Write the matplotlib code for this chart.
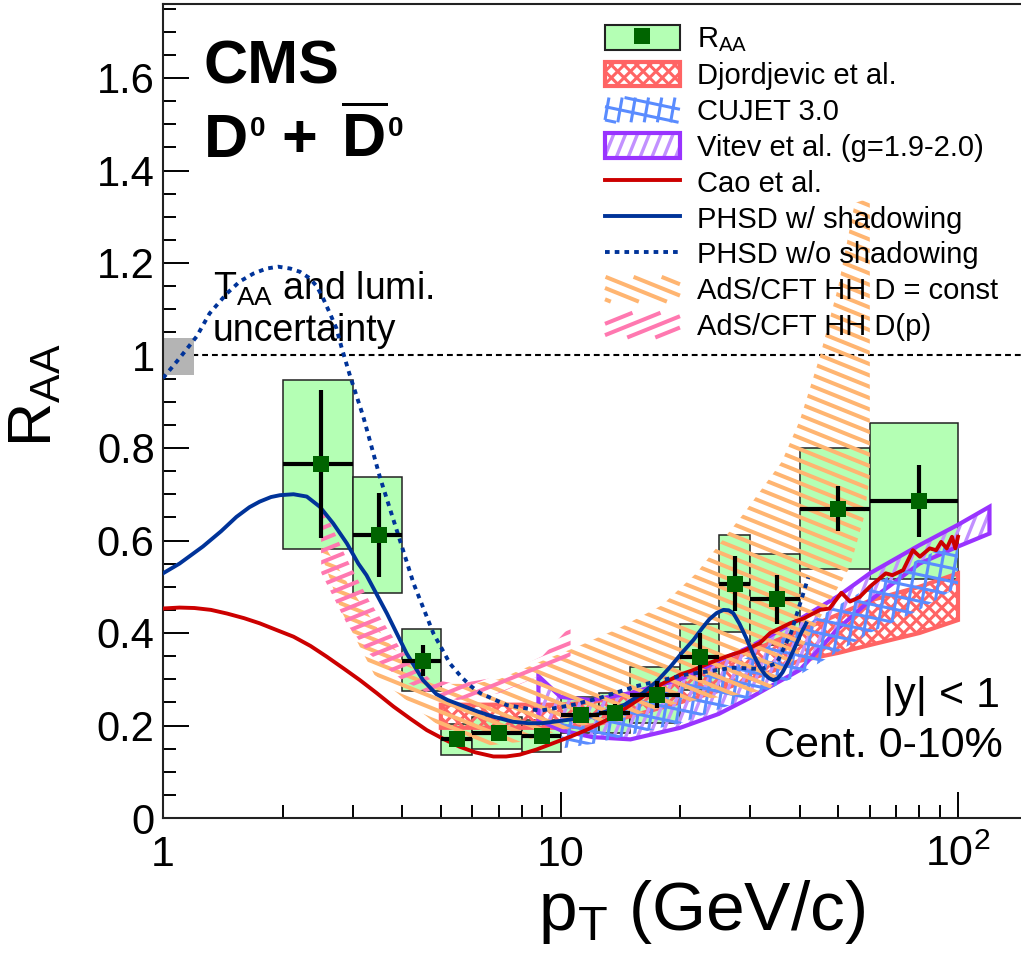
import numpy as np
import matplotlib
matplotlib.use('Agg')
import matplotlib.pyplot as plt
from matplotlib.patches import Rectangle, Polygon
from matplotlib.collections import LineCollection
from matplotlib.lines import Line2D
from matplotlib.legend_handler import HandlerBase
from matplotlib.transforms import IdentityTransform
import matplotlib.ticker as mticker

plt.rcParams['font.family'] = ['Liberation Sans', 'DejaVu Sans']
plt.rcParams['mathtext.fontset'] = 'custom'
plt.rcParams['mathtext.rm'] = 'Liberation Sans'
plt.rcParams['mathtext.it'] = 'Liberation Sans:italic'
plt.rcParams['mathtext.bf'] = 'Liberation Sans:bold'

# ---------------- data ----------------
pt_lo = np.array([2, 3, 4, 5, 6, 8, 10, 12.5, 15, 20, 25, 30, 40, 60])
pt_hi = np.array([3, 4, 5, 6, 8, 10, 12.5, 15, 20, 25, 30, 40, 60, 100])
raa = np.array([0.765, 0.612, 0.340, 0.170, 0.183, 0.177, 0.223, 0.228,
                0.267, 0.349, 0.507, 0.473, 0.669, 0.685])
raa_stat = np.array([0.160, 0.091, 0.034, 0.016, 0.014, 0.012, 0.014, 0.018,
                     0.029, 0.051, 0.059, 0.053, 0.049, 0.078])
syst_lo = np.array([0.581, 0.487, 0.275, 0.136, 0.149, 0.143, 0.184, 0.183,
                    0.206, 0.277, 0.403, 0.374, 0.538, 0.516])
syst_hi = np.array([0.948, 0.737, 0.408, 0.203, 0.218, 0.212, 0.262, 0.270,
                    0.327, 0.419, 0.612, 0.571, 0.800, 0.853])

# global uncertainty (TAA + lumi)
glob_x = [1.0, 1.2]
glob_lo, glob_hi = 0.958, 1.038

# Djordjevic et al.
djo_x = np.array([5, 7, 10, 12, 15, 20, 25, 30, 40, 50, 60, 80, 100])
djo_lo = np.array([0.195, 0.195, 0.195, 0.200, 0.220, 0.250, 0.275, 0.300,
                   0.340, 0.357, 0.374, 0.400, 0.428])
djo_hi = np.array([0.245, 0.245, 0.245, 0.250, 0.270, 0.300, 0.330, 0.360,
                   0.405, 0.440, 0.470, 0.500, 0.529])

# CUJET 3.0
cuj_x = np.array([10, 12, 15, 20, 25, 30, 40, 50, 60, 80, 100])
cuj_lo = np.array([0.150, 0.160, 0.180, 0.205, 0.235, 0.260, 0.310, 0.360,
                   0.400, 0.450, 0.500])
cuj_hi = np.array([0.215, 0.230, 0.255, 0.285, 0.320, 0.350, 0.410, 0.460,
                   0.500, 0.560, 0.600])

# Vitev et al. (g=1.9-2.0)
vit_x = np.array([8.8, 10, 12, 15, 20, 25, 30, 40, 50, 60, 80, 100, 120])
vit_lo = np.array([0.212, 0.190, 0.175, 0.170, 0.195, 0.225, 0.260, 0.320,
                   0.410, 0.470, 0.550, 0.587, 0.615])
vit_hi = np.array([0.307, 0.262, 0.255, 0.270, 0.300, 0.340, 0.370, 0.430,
                   0.480, 0.529, 0.590, 0.634, 0.673])

# AdS/CFT HH D = const
ads_c_xhi = np.array([2.5, 3.0, 3.6, 4.4, 5.2, 6, 7, 9, 11, 14, 18, 22, 29,
                      36, 40, 45, 50, 55, 60])
ads_c_hi = np.array([0.60, 0.49, 0.39, 0.31, 0.29, 0.29, 0.30, 0.34, 0.37,
                     0.41, 0.46, 0.53, 0.66, 0.77, 0.86, 1.00, 1.15, 1.33, 1.34])
ads_c_xlo = np.array([2.5, 2.8, 3.4, 4.3, 5.1, 6.3, 8, 10, 15, 20, 30, 33.7,
                      40, 47, 53.5, 58, 60])
ads_c_lo = np.array([0.57, 0.45, 0.31, 0.24, 0.19, 0.155, 0.165, 0.19, 0.22,
                     0.25, 0.27, 0.28, 0.36, 0.46, 0.543, 0.65, 0.74])

# AdS/CFT HH D(p)
ads_p_x = np.array([2.5, 2.9, 3.3, 4.0, 4.7, 5.5, 7, 9, 10.6])
ads_p_lo = np.array([0.53, 0.42, 0.355, 0.298, 0.268, 0.255, 0.270, 0.310, 0.350])
ads_p_hi = np.array([0.68, 0.56, 0.47, 0.36, 0.30, 0.290, 0.305, 0.350, 0.415])

# Cao et al.
cao_x = np.array([1.0, 1.1, 1.2, 1.32, 1.45, 1.6, 1.75, 1.95, 2.13, 2.35,
                  2.58, 2.85, 3.13, 3.45, 3.80, 4.2, 4.61, 5.1, 5.58, 6.1,
                  6.78, 7.3, 7.9, 8.7, 9.6, 10.6, 11.6, 13.3, 14.5, 16.1,
                  18.0, 20.0, 21.6, 24.0, 26.1, 29.0, 31.7, 33.7, 37.8, 41.0,
                  45.0, 47.5, 50.9, 53.5, 56.6, 60.0, 65.8, 68.4, 72.8, 77.0,
                  80.2, 84.9, 88.1, 90.7, 93.7, 96.6, 98.5, 100])
cao_y = np.array([0.453, 0.455, 0.454, 0.450, 0.442, 0.432, 0.421, 0.405,
                  0.392, 0.372, 0.349, 0.323, 0.298, 0.270, 0.241, 0.214,
                  0.190, 0.170, 0.154, 0.142, 0.133, 0.133, 0.137, 0.148,
                  0.162, 0.176, 0.190, 0.215, 0.236, 0.262, 0.290, 0.310,
                  0.320, 0.337, 0.349, 0.362, 0.378, 0.400, 0.421, 0.432,
                  0.450, 0.453, 0.487, 0.468, 0.478, 0.500, 0.529, 0.525,
                  0.536, 0.579, 0.565, 0.583, 0.579, 0.597, 0.583, 0.608,
                  0.583, 0.608])

# PHSD w/ shadowing
phsd_x = np.array([1.0, 1.1, 1.26, 1.4, 1.53, 1.65, 1.75, 1.87, 1.97, 2.13,
                   2.30, 2.48, 2.68, 2.90, 3.10, 3.25, 3.66, 4.10, 4.51, 4.87,
                   5.2, 5.58, 6.2, 6.78, 7.6, 8.3, 9.0, 10.0, 11.2, 12.6,
                   14.5, 16.1, 17.5, 18.9, 20.2, 21.6, 22.7, 23.7, 24.7, 25.7,
                   26.5, 27.2, 28.2, 29.3, 30.5, 31.7, 32.7, 33.5, 34.3, 35.2,
                   36.2, 37.5, 39.0, 40.3, 41.5])
phsd_y = np.array([0.529, 0.550, 0.587, 0.620, 0.651, 0.672, 0.684, 0.694,
                   0.698, 0.700, 0.695, 0.673, 0.637, 0.594, 0.550, 0.525,
                   0.442, 0.356, 0.298, 0.268, 0.255, 0.245, 0.230, 0.219,
                   0.208, 0.205, 0.205, 0.210, 0.216, 0.226, 0.245, 0.270,
                   0.296, 0.327, 0.357, 0.385, 0.410, 0.430, 0.443, 0.450,
                   0.449, 0.443, 0.420, 0.390, 0.355, 0.327, 0.310, 0.302,
                   0.298, 0.302, 0.315, 0.340, 0.372, 0.400, 0.421])

# PHSD w/o shadowing
phsd_ns_x = np.array([1.0, 1.10, 1.215, 1.31, 1.447, 1.56, 1.687, 1.82, 1.95,
                      2.09, 2.21, 2.34, 2.44, 2.53, 2.63, 2.73, 2.81, 2.95,
                      3.19, 3.51, 3.87, 4.27, 4.79, 5.27, 5.63, 5.95, 6.28,
                      7.33, 8.89, 10.8, 12.6, 15.5, 20.7, 27.2, 32, 35, 38, 42])
phsd_ns_y = np.array([0.951, 0.994, 1.041, 1.091, 1.134, 1.160, 1.177, 1.188,
                      1.192, 1.188, 1.181, 1.167, 1.149, 1.123, 1.091, 1.059,
                      1.019, 0.958, 0.868, 0.738, 0.623, 0.507, 0.399, 0.334,
                      0.305, 0.285, 0.270, 0.244, 0.232, 0.245, 0.260, 0.285,
                      0.310, 0.325, 0.322, 0.335, 0.400, 0.520])

xtick_vals = [1, 10, 100]
xtick_labels = ['1', '10', r'10$^{2}$']
ytick_vals = [0, 0.2, 0.4, 0.6, 0.8, 1.0, 1.2, 1.4, 1.6]
ytick_labels = ['0', '0.2', '0.4', '0.6', '0.8', '1', '1.2', '1.4', '1.6']

# ---------------- styles ----------------
C_GREEN_FILL = '#b4ffb4'
C_MARK = '#006400'
C_DJO = '#ff6464'
C_CUJ = '#5a8cff'
C_VIT = '#9933ff'
C_VIT_H = '#c291ff'
C_ORA = '#ffb571'
C_PINK = '#ff78b0'
C_CAO = '#cc0000'
C_PHSD = '#003399'

W, H, DPI = 1021, 964, 100
PX = 72.0 / DPI  # points per pixel

fig = plt.figure(figsize=(W / DPI, H / DPI), dpi=DPI)
AX_L, AX_R, AX_B, AX_T = 163, 1021, 818, 4
ax = fig.add_axes([AX_L / W, 1 - AX_B / H, (AX_R - AX_L) / W, (AX_B - AX_T) / H])
ax.set_xscale('log')
ax.set_xlim(1, 10 ** ((AX_R - AX_L) / 397.5))
ax.set_ylim(0, (AX_B - AX_T) / 462.5)


def hatch_segments(x0, y0, x1, y1, angle, spacing):
    th = np.deg2rad(angle)
    d = np.array([np.cos(th), np.sin(th)])
    n = np.array([-np.sin(th), np.cos(th)])
    corners = np.array([[x0, y0], [x1, y0], [x1, y1], [x0, y1]])
    s = corners @ n
    t = corners @ d
    segs = []
    start = np.floor(s.min() / spacing) * spacing
    for si in np.arange(start, s.max() + spacing, spacing):
        p = si * n
        segs.append([p + (t.min() - 5) * d, p + (t.max() + 5) * d])
    return segs


def clip_seg(seg, x0, y0, x1, y1):
    (px, py), (qx, qy) = seg
    dx, dy = qx - px, qy - py
    t0, t1 = 0.0, 1.0
    for pp, qq in ((-dx, px - x0), (dx, x1 - px), (-dy, py - y0), (dy, y1 - py)):
        if abs(pp) < 1e-12:
            if qq < 0:
                return None
        else:
            r = qq / pp
            if pp < 0:
                t0 = max(t0, r)
            else:
                t1 = min(t1, r)
    if t0 >= t1:
        return None
    return [(px + t0 * dx, py + t0 * dy), (px + t1 * dx, py + t1 * dy)]


def band(xt, yt, xb, yb, hatches, face='none', edge='none', elw=0, z=3):
    verts = np.column_stack([np.r_[xt, xb[::-1]], np.r_[yt, yb[::-1]]])
    poly = Polygon(verts, closed=True, facecolor=face, edgecolor='none', zorder=z)
    ax.add_patch(poly)
    disp = ax.transData.transform(verts)
    x0, y0 = disp.min(0)
    x1, y1 = disp.max(0)
    for ang, sp, lw, col in hatches:
        segs = hatch_segments(x0, y0, x1, y1, ang, sp)
        lc = LineCollection(segs, colors=col, linewidths=lw,
                            transform=IdentityTransform(), zorder=z,
                            capstyle='butt')
        lc.set_clip_path(poly)
        ax.add_collection(lc, autolim=False)
    if elw:
        ax.add_patch(Polygon(verts, closed=True, facecolor='none', edgecolor=edge,
                             lw=elw, zorder=z, joinstyle='miter'))


class BandHandler(HandlerBase):
    def __init__(self, hatches, face='none', edge='none', elw=0):
        super().__init__()
        self.hatches = hatches
        self.face = face
        self.edge = edge
        self.elw = elw

    def create_artists(self, legend, orig_handle, xdescent, ydescent, width,
                       height, fontsize, trans):
        x0, y0 = -xdescent, -ydescent
        x1, y1 = x0 + width, y0 + height
        arts = []
        if self.face != 'none':
            arts.append(Rectangle((x0, y0), width, height, facecolor=self.face,
                                  edgecolor='none', transform=trans))
        for ang, sp, lw, col in self.hatches:
            segs = hatch_segments(x0, y0, x1, y1, ang, sp * PX)
            segs = [s for s in (clip_seg(sg, x0, y0, x1, y1) for sg in segs) if s]
            arts.append(LineCollection(segs, colors=col, linewidths=lw,
                                       transform=trans, capstyle='butt'))
        if self.elw:
            arts.append(Rectangle((x0, y0), width, height, facecolor='none',
                                  edgecolor=self.edge, lw=self.elw, transform=trans))
        return arts


H_DJO = [(45, 9.0, 2.2, C_DJO), (-45, 9.0, 2.2, C_DJO)]
H_CUJ = [(80, 13.0, 2.2, C_CUJ), (-12, 13.0, 2.2, C_CUJ)]
H_VIT = [(68, 11.0, 2.4, C_VIT_H)]
H_ORA = [(-22, 10.5, 2.9, C_ORA)]
H_PINK = [(22, 10.5, 2.9, C_PINK)]

# ---------------- drawing ----------------
ax.bar(pt_lo, syst_hi - syst_lo, width=pt_hi - pt_lo, bottom=syst_lo,
       align='edge', color=C_GREEN_FILL, edgecolor='#222222', linewidth=1.1,
       zorder=2)

band(djo_x, djo_hi, djo_x, djo_lo, H_DJO, edge=C_DJO, elw=3.0, z=3.0)
band(vit_x, vit_hi, vit_x, vit_lo, H_VIT, edge=C_VIT, elw=3.0, z=3.1)
band(cuj_x, cuj_hi, cuj_x, cuj_lo, H_CUJ, z=3.2)
band(ads_c_xhi, ads_c_hi, ads_c_xlo, ads_c_lo, H_ORA, z=3.3)
band(ads_p_x, ads_p_hi, ads_p_x, ads_p_lo, H_PINK, z=3.4)

ax.axhline(1.0, color='black', lw=1.5, ls=(0, (2.8, 1.9)), zorder=1.5)
ax.bar(glob_x[0], glob_hi - glob_lo, width=glob_x[1] - glob_x[0],
       bottom=glob_lo, align='edge', color='#b4b4b4', zorder=2.5)

ax.plot(cao_x, cao_y, color=C_CAO, lw=2.8, zorder=5, solid_joinstyle='round')
ax.plot(phsd_x, phsd_y, color=C_PHSD, lw=2.8, zorder=5, solid_joinstyle='round')
ax.plot(phsd_ns_x, phsd_ns_y, color=C_PHSD, lw=2.8, ls=(0, (1.2, 1.3)), zorder=5)

pt_c = 0.5 * (pt_lo + pt_hi)
ax.errorbar(pt_c, raa, xerr=[pt_c - pt_lo, pt_hi - pt_c], yerr=raa_stat,
            fmt='s', color=C_MARK, ms=11, mew=0, ecolor='black',
            elinewidth=3.0, capsize=0, zorder=6)

# ---------------- axes styling ----------------
ax.set_xticks(xtick_vals)
ax.set_xticklabels(xtick_labels)
ax.xaxis.set_minor_locator(mticker.FixedLocator(
    [v * m for m in (1, 10) for v in range(2, 10)]))
ax.xaxis.set_minor_formatter(mticker.NullFormatter())
ax.set_yticks(ytick_vals)
ax.set_yticklabels(ytick_labels)
ax.yaxis.set_minor_locator(mticker.MultipleLocator(0.05))
ax.tick_params(which='both', direction='in', top=False, right=False,
               colors='black', width=1.4)
ax.tick_params(which='major', length=18.7)
ax.tick_params(which='minor', length=9.4)
ax.tick_params(axis='x', pad=12, labelsize=31)
ax.tick_params(axis='y', pad=6, labelsize=30)
for s in ('left', 'bottom', 'top'):
    ax.spines[s].set_linewidth(1.5)
    ax.spines[s].set_color('#222222')
ax.spines['right'].set_visible(False)

ax.set_ylabel(r'R$_{\mathrm{AA}}$', fontsize=44)
ax.yaxis.set_label_coords(-0.115, 0.52)
ax.set_xlabel(r'p$_{\mathrm{T}}$ (GeV/c)', fontsize=50)
ax.xaxis.set_label_coords(0.628, -0.074)


def fx(px):
    return (px - AX_L) / (AX_R - AX_L)


def fy(py):
    return (AX_B - py) / (AX_B - AX_T)


# ---------------- texts ----------------
ax.text(fx(204), fy(83), 'CMS', transform=ax.transAxes, fontsize=44,
        fontweight='bold', va='baseline')
ax.text(fx(204), fy(157), 'D', transform=ax.transAxes, fontsize=44,
        fontweight='bold', va='baseline')
ax.text(fx(250), fy(116), '0', transform=ax.transAxes, fontsize=20,
        fontweight='bold', va='top')
ax.text(fx(281), fy(157), '+', transform=ax.transAxes, fontsize=44,
        fontweight='bold', va='baseline')
ax.text(fx(341), fy(157), r'$\mathbf{\overline{D}}$', transform=ax.transAxes,
        fontsize=44, va='baseline')
ax.text(fx(388), fy(116), '0', transform=ax.transAxes, fontsize=20,
        fontweight='bold', va='top')
ax.text(fx(213), fy(300), r'T$_{\mathrm{AA}}$ and lumi.', transform=ax.transAxes,
        fontsize=27, va='baseline')
ax.text(fx(213), fy(341), 'uncertainty', transform=ax.transAxes, fontsize=27,
        va='baseline')
ax.text(fx(1000), fy(707), '|y| < 1', transform=ax.transAxes, fontsize=31,
        ha='right', va='baseline')
ax.text(fx(1003), fy(757), 'Cent. 0-10%', transform=ax.transAxes, fontsize=31,
        ha='right', va='baseline')

# ---------------- legend ----------------
h_raa = (Rectangle((0, 0), 1, 1, facecolor=C_GREEN_FILL, edgecolor='#222222', lw=1.5),
         Line2D([], [], marker='s', ls='none', color=C_MARK, ms=11, mew=0))
h_djo = Rectangle((0, 0), 1, 1)
h_cuj = Rectangle((0, 0), 1, 1)
h_vit = Rectangle((0, 0), 1, 1)
h_cao = Line2D([], [], color=C_CAO, lw=2.8)
h_phsd = Line2D([], [], color=C_PHSD, lw=2.8)
h_phsd_ns = Line2D([], [], color=C_PHSD, lw=2.8, ls=(0, (1.2, 1.3)))
h_orc = Rectangle((0, 0), 1, 1)
h_pink = Rectangle((0, 0), 1, 1)

handles = [h_raa, h_djo, h_cuj, h_vit, h_cao, h_phsd, h_phsd_ns, h_orc, h_pink]
labels = [r'R$_{\mathrm{AA}}$', 'Djordjevic et al.', 'CUJET 3.0',
          'Vitev et al. (g=1.9-2.0)', 'Cao et al.', 'PHSD w/ shadowing',
          'PHSD w/o shadowing', 'AdS/CFT HH D = const', 'AdS/CFT HH D(p)']
hmap = {
    h_djo: BandHandler(H_DJO, face='white', edge=C_DJO, elw=3.0),
    h_cuj: BandHandler(H_CUJ),
    h_vit: BandHandler(H_VIT, edge=C_VIT, elw=3.0),
    h_orc: BandHandler(H_ORA),
    h_pink: BandHandler(H_PINK),
}
leg = ax.legend(handles, labels, handler_map=hmap, loc='upper left',
                bbox_to_anchor=(fx(605), fy(25)), bbox_transform=ax.transAxes,
                frameon=False, fontsize=21, handlelength=2.57, handleheight=0.93,
                labelspacing=0.255, handletextpad=0.57, borderpad=0,
                borderaxespad=0)
leg.set_zorder(10)

fig.savefig('out.png', dpi=DPI)
